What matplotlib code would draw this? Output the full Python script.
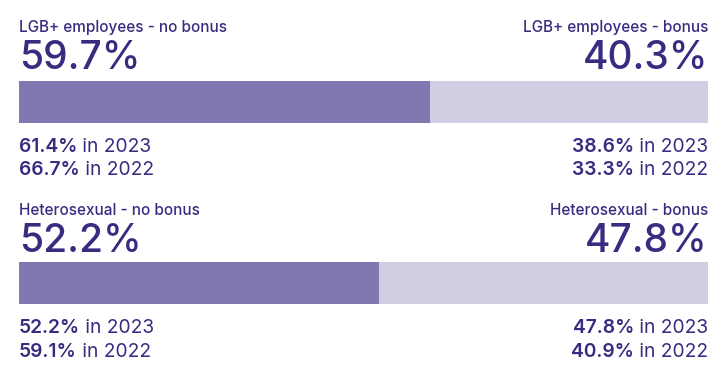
import matplotlib.pyplot as plt

# data
groups = ["LGB+ employees", "Heterosexual"]
no_bonus = [59.7, 52.2]
bonus = [40.3, 47.8]
no_bonus_2023 = [61.4, 52.2]
no_bonus_2022 = [66.7, 59.1]
bonus_2023 = [38.6, 47.8]
bonus_2022 = [33.3, 40.9]

TEXT = "#3a2a80"
DARK = "#8177b1"
LIGHT = "#d1cee4"
FONT = "Inter"

fig = plt.figure(figsize=(7.2, 3.76), dpi=100)
# axes spans the bar width, y in pixel-like units from top
ax = fig.add_axes([19 / 720, 0, 689 / 720, 1])
ax.set_xlim(0, 100)
ax.set_ylim(376, 0)
ax.axis("off")

bar_top = [81, 262]
bar_h = 42
label_y = [32, 215]
big_y = [69, 252]
line1_y = [152, 333]
line2_y = [175, 357]
YEAR_FS = 13.8


def two_part(x, y, bold, rest, ha):
    # bold percentage followed by regular " in YYYY"
    if ha == "left":
        t1 = ax.text(x, y, bold, ha="left", va="baseline", fontsize=YEAR_FS,
                     fontweight="semibold", color=TEXT, family=FONT)
        ax.annotate(rest, xy=(1, 0), xycoords=t1, ha="left", va="bottom",
                    fontsize=YEAR_FS, color=TEXT, family=FONT)
    else:
        t2 = ax.text(x, y, rest, ha="right", va="baseline", fontsize=YEAR_FS,
                     color=TEXT, family=FONT)
        ax.annotate(bold, xy=(0, 0), xycoords=t2, ha="right", va="bottom",
                    fontsize=YEAR_FS, fontweight="semibold", color=TEXT, family=FONT)


for i, g in enumerate(groups):
    ax.barh(bar_top[i] + bar_h / 2, no_bonus[i], height=bar_h, left=0,
            color=DARK, edgecolor="none")
    ax.barh(bar_top[i] + bar_h / 2, bonus[i], height=bar_h, left=no_bonus[i],
            color=LIGHT, edgecolor="none")

    ax.text(0, label_y[i], f"{g} - no bonus", ha="left", va="baseline",
            fontsize=11, color=TEXT, family=FONT, fontweight="medium")
    ax.text(100, label_y[i], f"{g} - bonus", ha="right", va="baseline",
            fontsize=11, color=TEXT, family=FONT, fontweight="medium")
    ax.text(0, big_y[i], f"{no_bonus[i]}%", ha="left", va="baseline",
            fontsize=28, color=TEXT, family=FONT, fontweight="medium")
    ax.text(100, big_y[i], f"{bonus[i]}%", ha="right", va="baseline",
            fontsize=28, color=TEXT, family=FONT, fontweight="medium")

    two_part(0, line1_y[i], f"{no_bonus_2023[i]}%", " in 2023", "left")
    two_part(0, line2_y[i], f"{no_bonus_2022[i]}%", " in 2022", "left")
    two_part(100, line1_y[i], f"{bonus_2023[i]}%", " in 2023", "right")
    two_part(100, line2_y[i], f"{bonus_2022[i]}%", " in 2022", "right")

fig.savefig("out.png", dpi=100, facecolor="white")
